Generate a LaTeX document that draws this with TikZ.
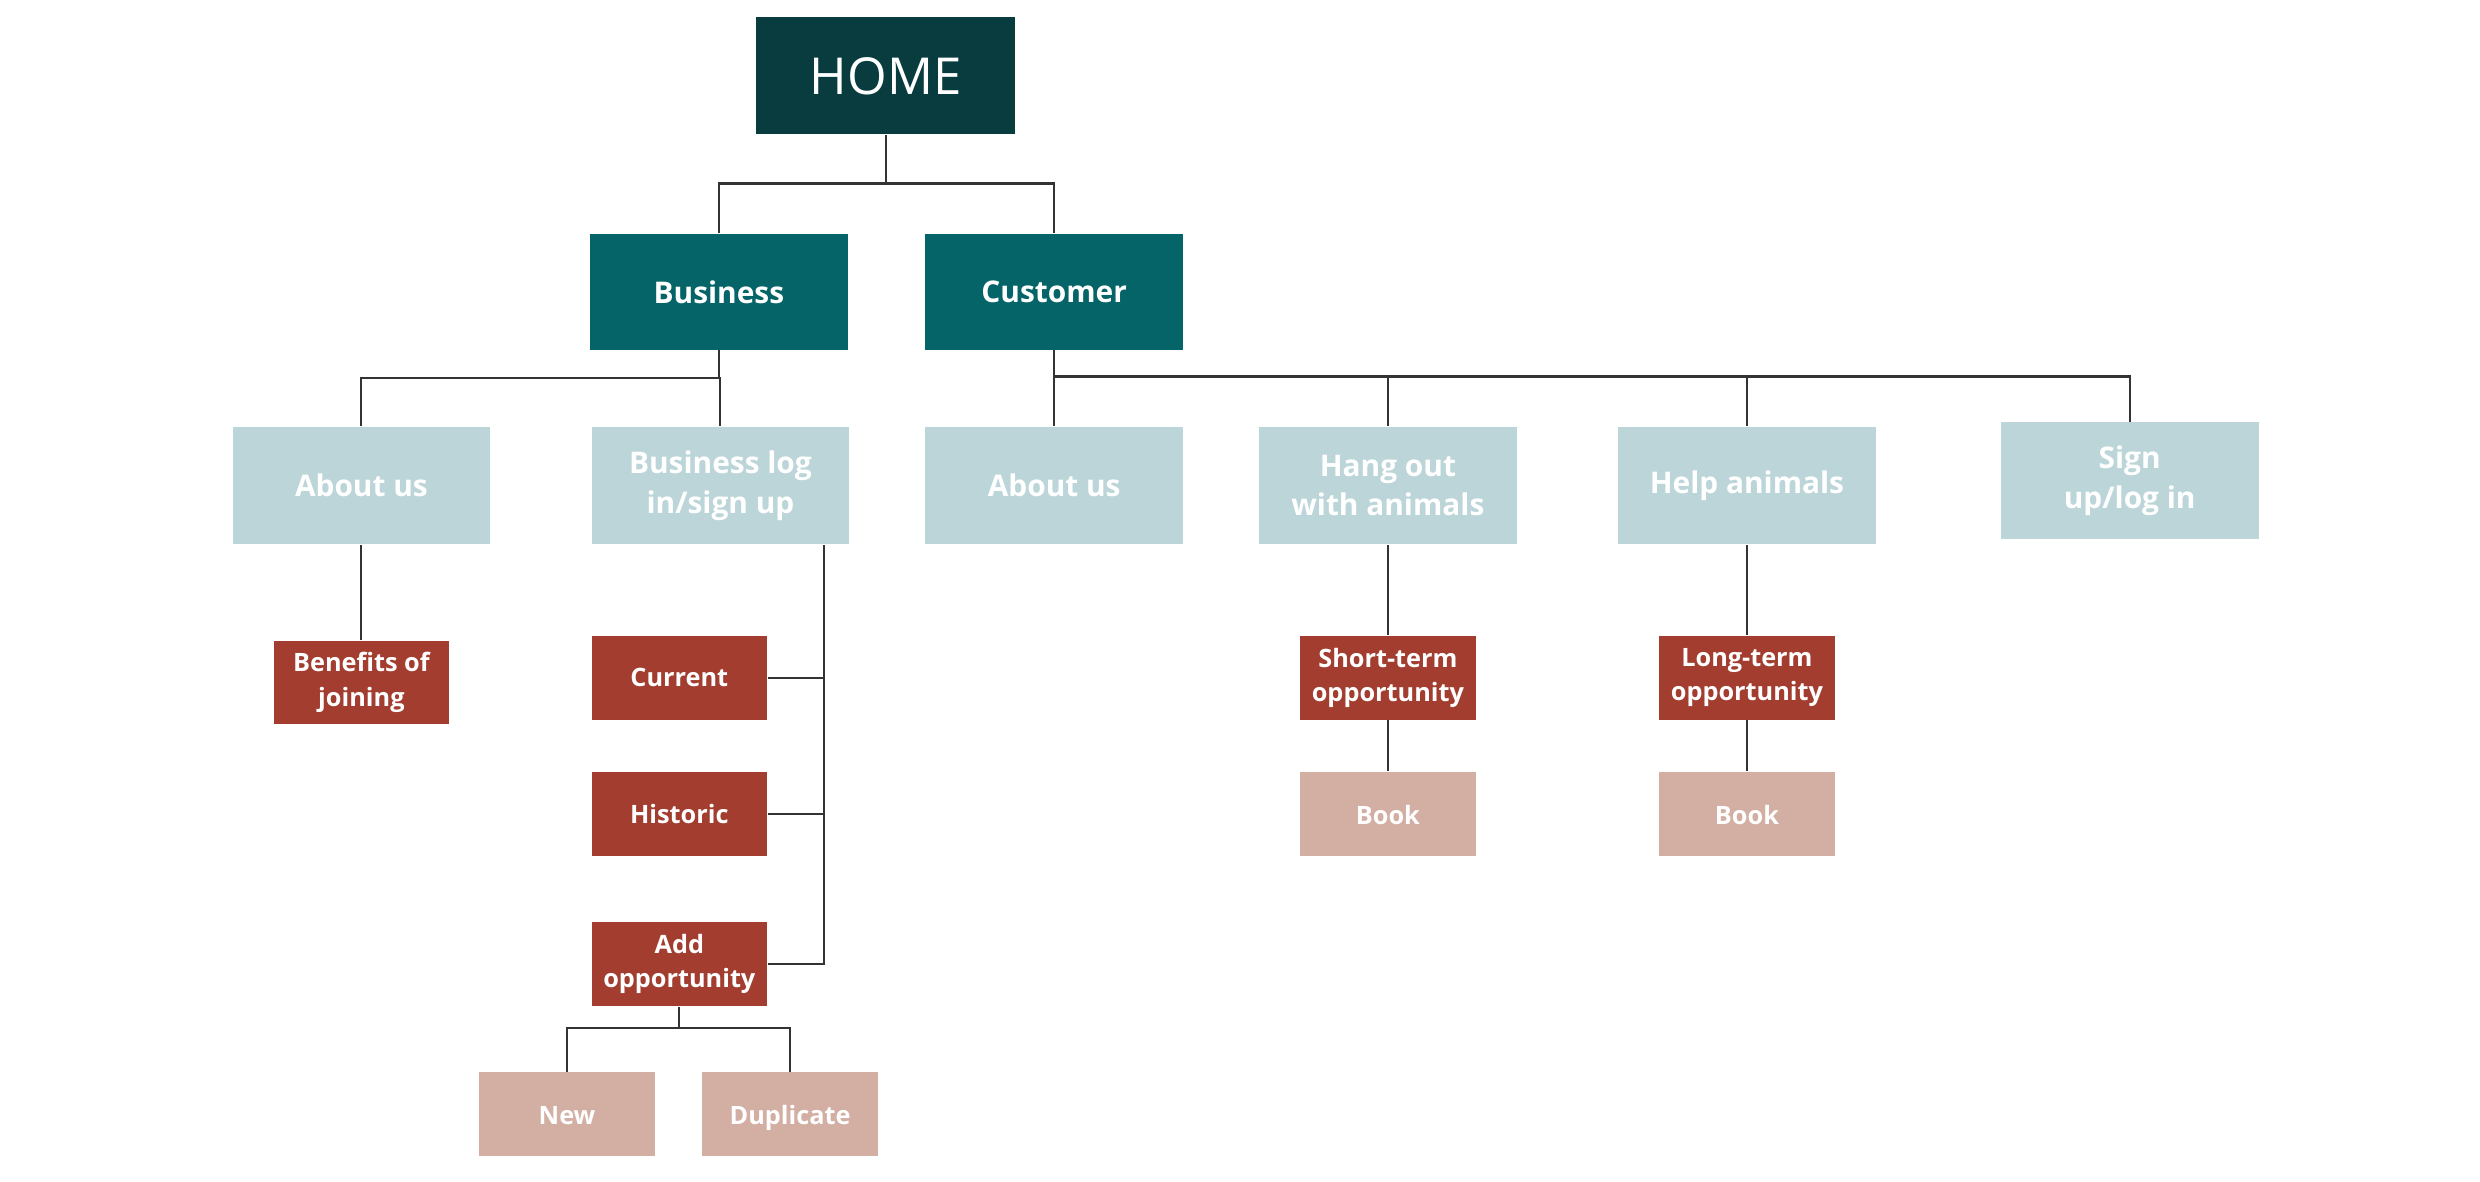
\documentclass[tikz,border=0pt]{standalone}
\usepackage{fontspec}
\setmainfont{Open Sans}
\usepackage{xcolor}
\usepackage{tikz}
\definecolor{homec}{HTML}{083C3E}
\definecolor{mainc}{HTML}{046467}
\definecolor{pagec}{HTML}{BCD5D8}
\definecolor{subc}{HTML}{A23D2F}
\definecolor{leafc}{HTML}{D3AEA3}
\definecolor{linec}{HTML}{333333}
\tikzset{
  box/.style={rectangle, inner sep=1pt, align=center, text=white, font=\bfseries},
  home/.style={box, fill=homec, minimum width=2.594cm, minimum height=1.170cm,
    font=\fontsize{14.5}{17}\selectfont},
  main/.style={box, fill=mainc, minimum width=2.578cm, minimum height=1.155cm,
    font=\bfseries\fontsize{8.5}{11}\selectfont},
  page/.style={box, fill=pagec, minimum width=2.578cm, minimum height=1.170cm,
    font=\bfseries\fontsize{8.5}{11.2}\selectfont},
  sub/.style={box, fill=subc, minimum width=1.756cm, minimum height=0.838cm,
    font=\bfseries\fontsize{7.2}{9.8}\selectfont},
  leaf/.style={box, fill=leafc, minimum width=1.756cm, minimum height=0.838cm,
    text height=1.6ex, text depth=0.5ex,
    font=\bfseries\fontsize{7.2}{9.8}\selectfont},
  link/.style={draw=linec, line width=0.6pt},
}
\begin{document}
\begin{tikzpicture}[x=0.015816cm, y=-0.015816cm]
  \useasboundingbox (0,0) rectangle (1568,746.7);
  % top levels
  \node[home] (home) at (560,48) {HOME};
  \node[main] (bus) at (454.5,184.5) {Business};
  \node[main] (cus) at (666.5,184.5) {Customer};
  % pages
  \node[page] (abtb) at (228.5,307) {About us};
  \node[page] (blog) at (455.5,307) {Business log\\in/sign up};
  \node[page] (abtc) at (666.5,307) {About us};
  \node[page] (hang) at (877.5,307) {Hang out\\with animals};
  \node[page] (help) at (1104.5,307) {Help animals};
  \node[page] (sign) at (1346.5,304) {Sign\\up/log in};
  % sub pages
  \node[sub] (ben) at (228.5,431.5) {Benefits of\\joining};
  \node[sub] (cur) at (429.5,428.5) {Current};
  \node[sub] (his) at (429.5,514.5) {Historic};
  \node[sub] (add) at (429.5,609.5) {Add\\opportunity};
  \node[sub] (short) at (877.5,428.5) {Short-term\\opportunity};
  \node[sub] (long) at (1104.5,428.5) {Long-term\\opportunity};
  % leaves
  \node[leaf] (new) at (358.5,704.5) {New};
  \node[leaf] (dup) at (499.5,704.5) {Duplicate};
  \node[leaf] (book1) at (877.5,514.5) {Book};
  \node[leaf] (book2) at (1104.5,514.5) {Book};
  % junctions
  \coordinate (t1) at (560,116);
  \coordinate (b1) at (455,239);
  \coordinate (c1) at (666,238);
  \coordinate (bv) at (521,609.5);
  \coordinate (a1) at (430,650);
  % connectors
  \draw[link] (home.south) -- (t1);
  \draw[link] (bus.north) -- (bus.north |- t1) -- (cus.north |- t1) -- (cus.north);
  \draw[link] (bus.south) -- (bus.south |- b1);
  \draw[link] (abtb.north) -- (abtb.north |- b1) -- (blog.north |- b1) -- (blog.north);
  \draw[link] (cus.south) -- (abtc.north);
  \draw[link] (c1) -- (sign.north |- c1) -- (sign.north);
  \foreach \n in {hang,help}{
    \draw[link] (\n.north |- c1) -- (\n.north);
  }
  \draw[link] (abtb.south) -- (ben.north);
  \draw[link] (blog.south -| bv) -- (bv) -- (add.east);
  \draw[link] (cur.east) -- (cur.east -| bv);
  \draw[link] (his.east) -- (his.east -| bv);
  \draw[link] (add.south) -- (add.south |- a1);
  \draw[link] (new.north) -- (new.north |- a1) -- (dup.north |- a1) -- (dup.north);
  \draw[link] (hang.south) -- (short.north);
  \draw[link] (short.south) -- (book1.north);
  \draw[link] (help.south) -- (long.north);
  \draw[link] (long.south) -- (book2.north);
\end{tikzpicture}
\end{document}
